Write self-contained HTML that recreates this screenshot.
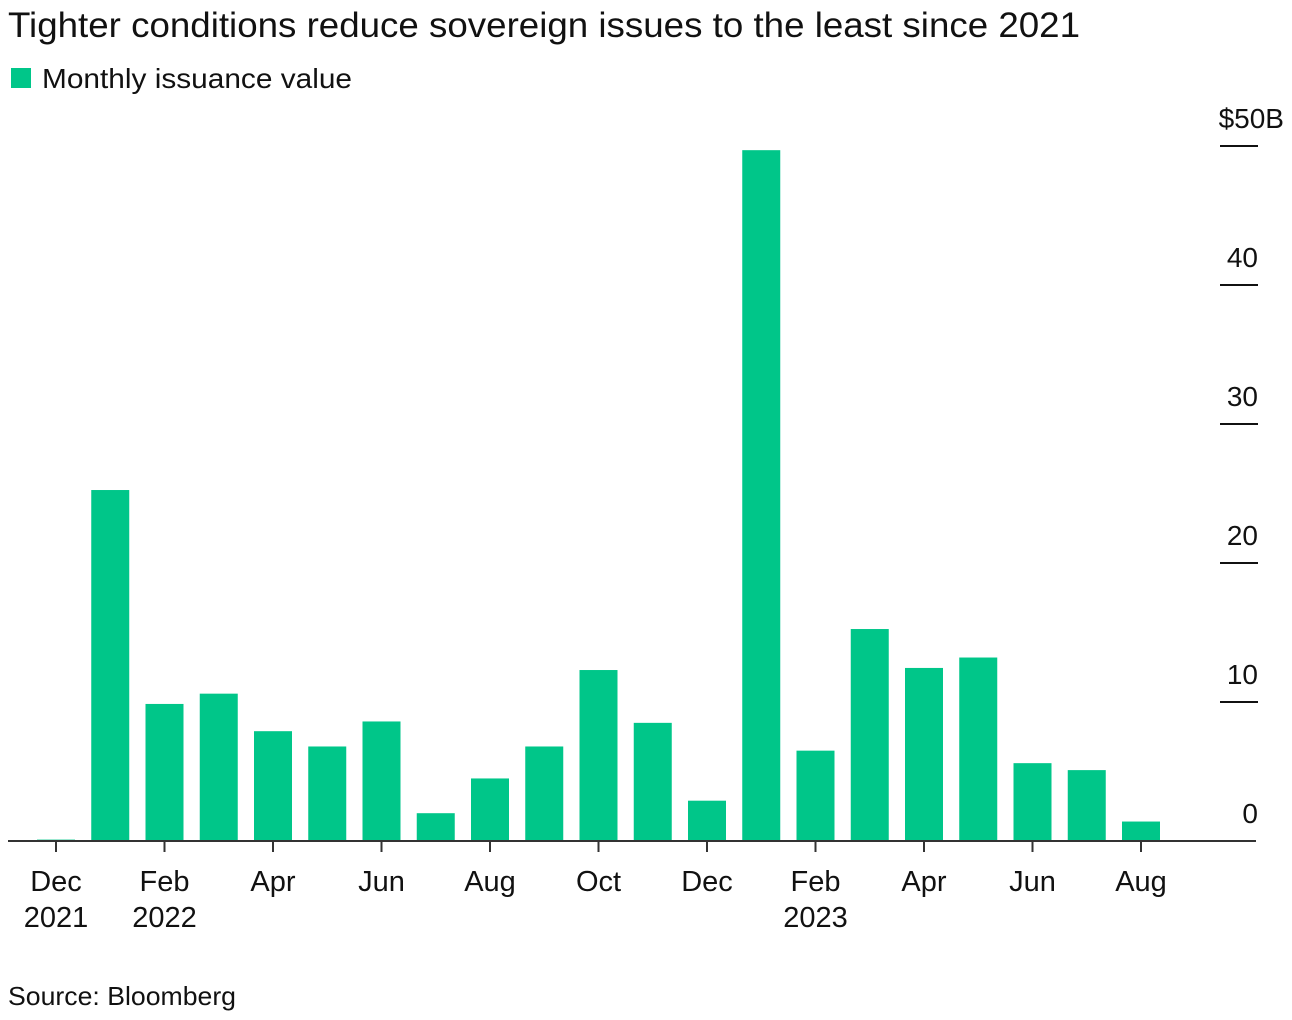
<!DOCTYPE html>
<html><head><meta charset="utf-8"><style>
body{margin:0;background:#fff;width:1292px;height:1015px;overflow:hidden;font-family:"Liberation Sans",Arial,sans-serif;}
</style></head><body>
<svg width="1292" height="1015" xmlns="http://www.w3.org/2000/svg">
<text x="8" y="37" font-size="35" textLength="1072" lengthAdjust="spacingAndGlyphs" fill="#111">Tighter conditions reduce sovereign issues to the least since 2021</text>
<rect x="11" y="68" width="20" height="20" fill="#00c689"/>
<text x="42" y="88" font-size="28" textLength="310" lengthAdjust="spacingAndGlyphs" fill="#111">Monthly issuance value</text>
<g id="bars"></g><g id="yaxis"></g><g id="xaxis"></g>
<line x1="8" y1="841" x2="1256" y2="841" stroke="#333" stroke-width="2"/>
<text x="8" y="1005" font-size="26" textLength="228" lengthAdjust="spacingAndGlyphs" fill="#111">Source: Bloomberg</text>
</svg>
<script>
const values=[0.1,25.25,9.86,10.6,7.9,6.8,8.6,2.0,4.5,6.8,12.3,8.5,2.9,49.7,6.5,15.25,12.45,13.2,5.6,5.1,1.4];
const yTicks=[0,10,20,30,40,50];
const yTickLabels=["0","10","20","30","40","$50B"];
const xLabelIdx=[0,2,4,6,8,10,12,14,16,18,20];
const xLabels=[["Dec","2021"],["Feb","2022"],["Apr"],["Jun"],["Aug"],["Oct"],["Dec"],["Feb","2023"],["Apr"],["Jun"],["Aug"]];
const NS="http://www.w3.org/2000/svg";
const y=v=>841-v*13.9;
const x=i=>56+i*54.25;
function mk(t,a,p){const e=document.createElementNS(NS,t);for(const k in a)e.setAttribute(k,a[k]);p.appendChild(e);return e;}
const bars=document.getElementById('bars');
values.forEach((v,i)=>{const r=mk('rect',{x:x(i)-19,y:y(v),width:38,height:841-y(v),fill:'#00c689'},bars);

});
const ya=document.getElementById('yaxis');
yTicks.forEach((t,i)=>{const l=mk('line',{x1:1220,x2:1258,y1:y(t),y2:y(t),stroke:'#111','stroke-width':2},ya);


if(t===0)l.setAttribute('stroke','none');
const tx=mk('text',{x:i===5?1284:1258,y:y(t)-18,'font-size':28,'text-anchor':'end',fill:'#111'},ya);tx.textContent=yTickLabels[i];

});
const xa=document.getElementById('xaxis');
xLabelIdx.forEach((idx,j)=>{const l=mk('line',{x1:x(idx),x2:x(idx),y1:841,y2:852,stroke:'#333','stroke-width':2},xa);


xLabels[j].forEach((s,k)=>{const t=mk('text',{x:x(idx),y:891+k*36,'font-size':29,'text-anchor':'middle',fill:'#111'},xa);t.textContent=s;

});});
</script>
</body></html>
